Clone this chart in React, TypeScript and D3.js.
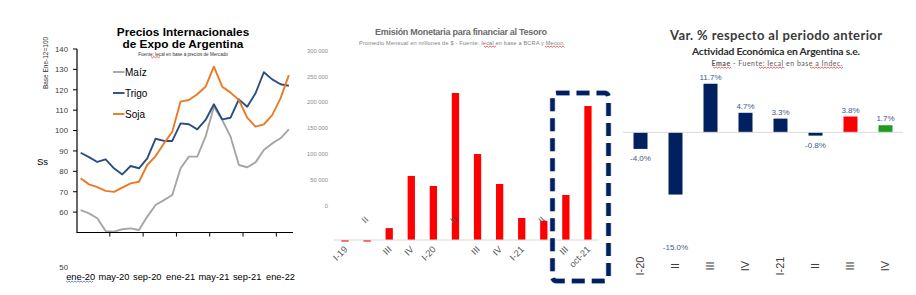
import React from "react";
import * as d3 from "d3";

// Left chart: monthly export prices, Base Ene-12=100
const months = [
  "ene-20", "feb-20", "mar-20", "abr-20", "may-20", "jun-20", "jul-20", "ago-20",
  "sep-20", "oct-20", "nov-20", "dic-20", "ene-21", "feb-21", "mar-21", "abr-21",
  "may-21", "jun-21", "jul-21", "ago-21", "sep-21", "oct-21", "nov-21", "dic-21",
  "ene-22", "feb-22",
];
const maiz = [61.0, 59.4, 57.0, 50.7, 50.4, 51.6, 52.0, 51.2, 57.8, 63.5, 65.9, 68.4, 81.5, 87.2, 87.2, 97.0, 111.7, 105.2, 97.0, 83.1, 82.0, 84.4, 90.5, 93.7, 96.2, 100.6];
const trigo = [89.1, 87.0, 84.6, 85.9, 81.5, 78.5, 82.6, 81.5, 86.4, 96.0, 94.9, 94.9, 103.5, 103.1, 100.6, 105.2, 112.9, 105.5, 106.3, 115.3, 111.7, 118.3, 128.6, 125.1, 122.7, 122.0];
const soja = [76.6, 73.6, 72.3, 70.4, 69.9, 72.0, 74.1, 74.9, 83.1, 87.5, 93.7, 99.4, 114.2, 115.0, 117.8, 121.5, 131.3, 121.5, 118.6, 115.0, 106.3, 101.9, 103.0, 107.6, 115.8, 127.2];
const priceTicks = [60, 70, 80, 90, 100, 110, 120, 130, 140];
const seriesNames = ["Maíz", "Trigo", "Soja"];
const seriesColors = ["#a5a5a5", "#2a4d82", "#ea7a24"];

// Middle chart: emisión monetaria, promedio mensual (millones de $)
const quarters = ["I-19", "II", "III", "IV", "I-20", "II", "III", "IV", "I-21", "II", "III", "oct-21"];
const emision = [-3000, -3000, 23000, 124000, 104500, 284500, 166400, 108400, 42600, 37300, 87100, 259300];
const emisionTicks = [0, 50000, 100000, 150000, 200000, 250000, 300000];

// Right chart: EMAE var % trimestral
const emaeQuarters = ["I-20", "II", "III", "IV", "I-21", "II", "III", "IV"];
const emaeVar = [-4.0, -15.0, 11.7, 4.7, 3.3, -0.8, 3.8, 1.7];
const emaeColors = ["#002060", "#002060", "#002060", "#002060", "#002060", "#002060", "#ff0000", "#1f9c1f"];

const squiggle = (x0: number, x1: number, y: number) => {
  let d = `M${x0},${y}`;
  for (let x = x0 + 1.5, k = 0; x <= x1; x += 1.5, k++) d += `L${x},${y + (k % 2 ? 0 : 1.2)}`;
  return d;
};

function PriceChart() {
  const x = d3.scaleBand().domain(months).range([76.5, 293]);
  const y = d3.scaleLinear().domain([50, 140]).range([232.5, 49]);
  const cx = (m: string) => (x(m) as number) + x.bandwidth() / 2;
  const line = d3
    .line<number>()
    .x((_d, i) => cx(months[i]))
    .y((d) => y(d));
  const series = [maiz, trigo, soja];
  const font = "'Liberation Sans', Arial, sans-serif";

  return (
    <g fontFamily={font}>
      <text x={183} y={35.5} textAnchor="middle" fontSize={11.8} fontWeight="bold" fill="#000">Precios Internacionales</text>
      <text x={183} y={48} textAnchor="middle" fontSize={11.8} fontWeight="bold" fill="#000">de Expo de Argentina</text>
      <text x={183} y={55.5} textAnchor="middle" fontSize={4.6} fill="#333">Fuente: Iecal en base a precios de Mercado</text>
      <path d={squiggle(151, 161, 56.5)} stroke="#e00" strokeWidth={0.6} fill="none" />

      <text transform="translate(48,63) rotate(-90)" textAnchor="middle" fontSize={6.5} fill="#333">Base Ene-12=100</text>
      <text x={37} y={165} fontSize={9.5} fill="#000">Ss</text>

      {priceTicks.map((t) => (
        <g key={t}>
          <line x1={73} x2={77} y1={y(t)} y2={y(t)} stroke="#000" strokeWidth={1} />
          <text x={68} y={y(t) + 2.8} textAnchor="end" fontSize={7.8} fill="#404040">{t}</text>
        </g>
      ))}
      <text x={68} y={270} textAnchor="end" fontSize={7.8} fill="#404040">50</text>

      {series.map((s, k) => (
        <path key={k} d={line(s) || ""} fill="none" stroke={seriesColors[k]} strokeWidth={1.9} strokeLinejoin="round" />
      ))}

      <line x1={77} x2={77} y1={49} y2={232.5} stroke="#000" strokeWidth={1.2} />
      <line x1={76.5} x2={293} y1={232.5} y2={232.5} stroke="#000" strokeWidth={1.2} />
      {months.map((m, i) =>
        i > 0 && i % 4 === 0 ? (
          <line key={m} x1={x(m)} x2={x(m)} y1={232.5} y2={236.5} stroke="#000" strokeWidth={1} />
        ) : null
      )}
      {months.map((m, i) =>
        i % 4 === 0 ? (
          <text key={m} x={cx(m)} y={279.5} textAnchor="middle" fontSize={9.3} fill="#000">{m}</text>
        ) : null
      )}
      <path d={squiggle(66, 94, 281)} stroke="#3355dd" strokeWidth={0.7} fill="none" />

      {seriesNames.map((n, k) => (
        <g key={n}>
          <line x1={113} x2={124.5} y1={72 + k * 21} y2={72 + k * 21} stroke={seriesColors[k]} strokeWidth={1.9} />
          <text x={125} y={75.5 + k * 21} fontSize={10} fill="#000">{n}</text>
        </g>
      ))}
    </g>
  );
}

function EmisionChart() {
  const x = d3.scaleBand<number>().domain(quarters.map((_q, i) => i)).range([334, 599]).paddingInner(0.67).paddingOuter(0.335);
  const yAxis = d3.scaleLinear().domain([0, 300000]).range([205.7, 50.7]);
  const yBar = d3.scaleLinear().domain([0, 300000]).range([240, 85]);
  const fmt = (v: number) => d3.format(",")(v).replace(/,/g, " ");
  const font = "'Liberation Sans', Arial, sans-serif";

  return (
    <g fontFamily={font}>
      <text x={461} y={35} textAnchor="middle" fontSize={9} fontWeight="bold" fill="#6b6b6b" textLength={172} lengthAdjust="spacing">Emisión Monetaria para financiar al Tesoro</text>
      <text x={462} y={45} textAnchor="middle" fontSize={5.6} fill="#7f7f7f" textLength={206} lengthAdjust="spacing">Promedio Mensual en millones de $ - Fuente: Iecal en base a BCRA y Mecon.</text>
      <path d={squiggle(484, 496, 46)} stroke="#e00" strokeWidth={0.6} fill="none" />
      <path d={squiggle(545, 565, 46)} stroke="#e00" strokeWidth={0.6} fill="none" />

      {emisionTicks.map((t) => (
        <text key={t} x={328} y={yAxis(t) + 2} textAnchor="end" fontSize={5.8} fill="#8a8a8a">{fmt(t)}</text>
      ))}

      {emision.map((v, i) => (
        <rect key={i} x={x(i)} width={x.bandwidth()} y={Math.min(yBar(v), yBar(0))} height={Math.max(1.2, Math.abs(yBar(v) - yBar(0)))} fill="#ff0000" />
      ))}
      <line x1={334} x2={599} y1={yBar(0)} y2={yBar(0)} stroke="#d9d9d9" strokeWidth={1} />

      {quarters.map((q, i) => {
        const c = (x(i) as number) + x.bandwidth() / 2;
        const floating = q === "II";
        return floating ? (
          <text key={i} transform={`translate(${c},${222}) rotate(-45)`} textAnchor="middle" fontSize={9} fill="#595959">{q}</text>
        ) : (
          <text key={i} transform={`translate(${c + 3},${250}) rotate(-45)`} textAnchor="end" fontSize={9.2} fill="#595959">{q}</text>
        );
      })}

      <rect x={552.5} y={93} width={56} height={188} rx={4} fill="none" stroke="#c8d4ea" strokeWidth={6} strokeDasharray="13 7" />
      <rect x={552.5} y={93} width={56} height={188} rx={4} fill="none" stroke="#002060" strokeWidth={4.5} strokeDasharray="13 7" />
    </g>
  );
}

function EmaeChart() {
  const x = d3.scaleBand<number>().domain(emaeQuarters.map((_q, i) => i)).range([623, 903]).paddingInner(0.6).paddingOuter(0.3);
  const y = d3.scaleLinear().domain([-16, 14]).range([198.7, 74.2]);
  const font = "Lato, 'Open Sans', sans-serif";

  return (
    <g fontFamily={font}>
      <text x={776} y={39.5} textAnchor="middle" fontSize={13} fontWeight="bold" fill="#3a3a3a" textLength={212} lengthAdjust="spacing">Var. % respecto al periodo anterior</text>
      <text x={776} y={54.5} textAnchor="middle" fontSize={10.3} fontWeight="bold" fill="#2b2b2b" textLength={168} lengthAdjust="spacing">Actividad Económica en Argentina s.e.</text>
      <text x={777} y={65.5} textAnchor="middle" fontSize={7} fill="#595959" textLength={131} lengthAdjust="spacing">
        <tspan fontWeight="bold">Emae</tspan> - Fuente: Iecal en base a Indec.
      </text>
      <path d={squiggle(713, 731, 67)} stroke="#e00" strokeWidth={0.6} fill="none" />
      <path d={squiggle(759, 785, 67)} stroke="#e00" strokeWidth={0.6} fill="none" />
      <path d={squiggle(810, 843, 67)} stroke="#e00" strokeWidth={0.6} fill="none" />

      {emaeVar.map((v, i) => (
        <rect key={i} x={x(i)} width={x.bandwidth()} y={Math.min(y(v), y(0))} height={Math.abs(y(v) - y(0))} fill={emaeColors[i]} />
      ))}
      <line x1={623} x2={903} y1={y(0)} y2={y(0)} stroke="#d9d9d9" strokeWidth={1} />

      {emaeVar.map((v, i) => {
        const c = (x(i) as number) + x.bandwidth() / 2;
        // the -15% label sits far below its bar in the original
        const ly = v >= 0 ? y(v) - 4 : v < -10 ? 250 : y(v) + 12;
        return (
          <text key={i} x={c} y={ly} textAnchor="middle" fontSize={8} fill="#3e5c8a" fontFamily="'Liberation Sans', Arial, sans-serif">
            {v.toFixed(1)}%
          </text>
        );
      })}

      {emaeQuarters.map((q, i) => {
        const c = (x(i) as number) + x.bandwidth() / 2;
        return (
          <text key={i} transform={`translate(${c + 3.8},${266}) rotate(-90)`} textAnchor="middle" fontSize={11} fill="#404040" fontFamily="'Liberation Sans', Arial, sans-serif">
            {q}
          </text>
        );
      })}
    </g>
  );
}

export default function App() {
  return (
    <svg
      width={916}
      height={295}
      viewBox="0 0 916 295"
      style={{ position: "fixed", left: 0, top: 0, background: "#fff" }}
    >
      <rect width={916} height={295} fill="#fff" />
      <PriceChart />
      <EmisionChart />
      <EmaeChart />
    </svg>
  );
}
